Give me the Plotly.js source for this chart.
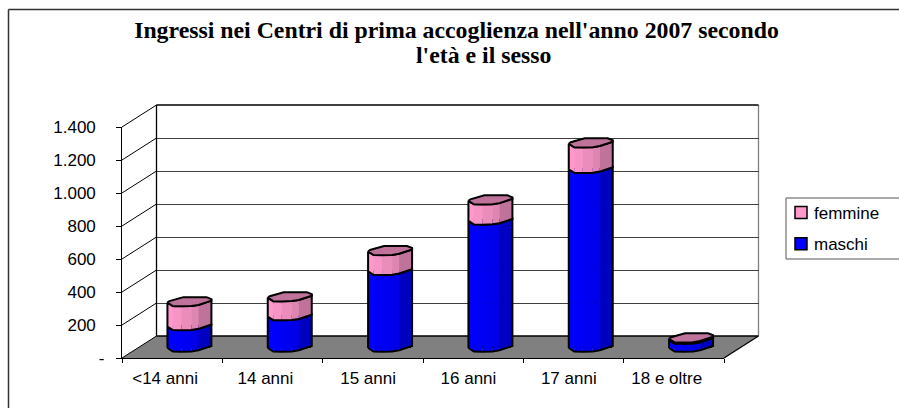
<!DOCTYPE html>
<html><head><meta charset="utf-8">
<script src="https://cdn.plot.ly/plotly-3.0.1.min.js"></script>
<style>html,body{margin:0;padding:0;background:#fff}#c{width:899px;height:408px}</style>
</head><body><div id="c"></div>
<script>
const categories = ['<14 anni','14 anni','15 anni','16 anni','17 anni','18 e oltre'];
const maschi  = [130,190,465,770,1083,48];
const femmine = [145,115,120,122,155,8];
const yTickVals = [0,200,400,600,800,1000,1200,1400];
const yTickText = ['-','200\u2002','400\u2002','600\u2002','800\u2002','1.000\u2002','1.200\u2002','1.400\u2002'];
const xTickText = ['<14 anni\u00a0\u00a0\u00a0','14 anni\u00a0\u00a0\u00a0','15 anni\u00a0\u00a0','16 anni\u00a0\u00a0','17 anni\u00a0\u00a0','18 e oltre\u00a0\u00a0\u00a0'];
const titleLine1 = "Ingressi nei Centri di prima accoglienza nell'anno 2007 secondo";
const titleLine2 = "l'età e il sesso";

const W=899,H=408;
const X=p=>p/W, Y=p=>1-p/H;
// pseudo-3D frame (pixels)
const F={x0:122,x1:724,y0:358,y1:127};           // front plane
const dx=34.5, dy=22;                            // depth of the box
const pxPerVal=(F.y0-F.y1)/1400, pxPerCat=(F.x1-F.x0)/6;
const BELOW=100;                                 // axis room under the base for the rounded bottoms
const M={x0:F.x0+dx/2,x1:F.x1+dx/2,y0:F.y0-dy/2}; // mid plane, bars stand here
const midDomainY=[Y(M.y0+BELOW*pxPerVal),Y(M.y0-1400*pxPerVal)];
const midDomainX=[X(M.x0),X(M.x1)];

// facetted cylinder profile, pixel offsets from bar centre
const frontEdge=[[-22,1],[-16.5,4.5],[-8,4.7],[2,4.4],[9,3.3],[22,-1]];
const backEdge=[[22,-2.5],[17,-4.5],[-6,-4.5],[-20,-0.5]];
const pinkBands=['#ff99cc','#f795c6','#ea8dbb','#de86b2','#c0739a'];
const blueBands=['#0000ff','#0000f8','#0000f0','#0000e8','#0000c0'];
const px=(i,o)=>i+o/pxPerCat, py=(v,o)=>v-o/pxPerVal;

function polyTrace(xs,ys,fill,lineW){
  return {type:'scatter',xaxis:'x4',yaxis:'y4',x:xs,y:ys,
    mode:lineW?'lines':'none',fill:'toself',fillcolor:fill,
    line:{color:'#000',width:lineW||0},showlegend:false,hoverinfo:'skip'};
}
function segmentTraces(lo,hi,bands){
  const out=[];
  bands.forEach((c,b)=>{
    const xs=[],ys=[];
    categories.forEach((_,i)=>{
      const a=frontEdge[b],e=frontEdge[b+1];
      xs.push(px(i,a[0]),px(i,e[0]),px(i,e[0]),px(i,a[0]),px(i,a[0]),null);
      ys.push(py(lo[i],a[1]),py(lo[i],e[1]),py(hi[i],e[1]),py(hi[i],a[1]),py(lo[i],a[1]),null);
    });
    out.push(polyTrace(xs,ys,c,0));
  });
  const xs=[],ys=[];
  categories.forEach((_,i)=>{
    frontEdge.forEach(p=>{xs.push(px(i,p[0]));ys.push(py(lo[i],p[1]));});
    frontEdge.slice().reverse().forEach(p=>{xs.push(px(i,p[0]));ys.push(py(hi[i],p[1]));});
    xs.push(px(i,frontEdge[0][0]),null);ys.push(py(lo[i],frontEdge[0][1]),null);
  });
  const o=polyTrace(xs,ys,'rgba(0,0,0,0)',2);o.fill='none';out.push(o);
  return out;
}
function capTrace(level){
  const xs=[],ys=[];
  categories.forEach((_,i)=>{
    frontEdge.concat(backEdge,[frontEdge[0]]).forEach(p=>{xs.push(px(i,p[0]));ys.push(py(level[i],p[1]));});
    xs.push(null);ys.push(null);
  });
  return polyTrace(xs,ys,'#c0739a',2);
}
const zeros=categories.map(()=>0);
const totals=maschi.map((m,i)=>m+femmine[i]);

const traces=[
  {type:'scatter',mode:'none',x:categories,y:totals,xaxis:'x',yaxis:'y',showlegend:false,hoverinfo:'skip'},
  {type:'scatter',mode:'none',x:[0,1],y:[0,1400],xaxis:'x3',yaxis:'y3',showlegend:false,hoverinfo:'skip'},
  {type:'bar',name:'maschi',legendgroup:'m',legendrank:2,x:categories,y:maschi,xaxis:'x2',yaxis:'y2',width:0.4,
   marker:{color:'#0000ff',line:{color:'#000',width:1.5}}},
  {type:'bar',name:'femmine',legendgroup:'f',legendrank:1,x:categories,y:femmine,xaxis:'x2',yaxis:'y2',width:0.4,
   marker:{color:'#ff99cc',line:{color:'#000',width:1.5}}},
  ...segmentTraces(zeros,maschi,blueBands),
  ...segmentTraces(maschi,totals,pinkBands),
  capTrace(totals)
];

const blk={color:'#000',width:1.3};
const line=(x0,y0,x1,y1,l)=>({type:'line',xref:'paper',yref:'paper',x0:X(x0),y0:Y(y0),x1:X(x1),y1:Y(y1),line:l||blk,layer:'below'});
const shapes=[
  line(8.5,9.5,W,9.5,{color:'#333',width:1.5}),
  line(8.5,9.5,8.5,H,{color:'#333',width:1.5}),
  {type:'path',xref:'paper',yref:'paper',layer:'below',fillcolor:'#808080',line:{width:0},
   path:`M${X(F.x0)},${Y(F.y0)}L${X(F.x0+dx)},${Y(F.y0-dy)}L${X(F.x1+dx)},${Y(F.y0-dy)}L${X(F.x1)},${Y(F.y0)}Z`},
  line(F.x1,F.y0,F.x1+dx,F.y0-dy),
  line(F.x0+dx,F.y0-dy,F.x0+dx,F.y1-dy),
  line(F.x1+dx,F.y0-dy,F.x1+dx,F.y1-dy,{color:'#808080',width:1.3}),
  line(F.x0+dx,F.y1-dy,F.x1+dx,F.y1-dy),
  line(F.x0+dx,F.y0-dy,F.x1+dx,F.y0-dy),
  ...yTickVals.map(v=>{const y=F.y0-v*pxPerVal;return line(F.x0,y,F.x0+dx,y-dy,{color:'#000',width:1});}),
  {type:'rect',xref:'paper',yref:'paper',layer:'below',x0:X(786),x1:X(905),y0:Y(198),y1:Y(259),fillcolor:'#fff',line:{color:'#555',width:1}}
];

const serif={family:'"Liberation Serif","Times New Roman",serif',size:23.8,color:'#000',weight:700};
const hidden={visible:false,fixedrange:true};
const layout={
  width:W,height:H,margin:{l:0,r:0,t:0,b:0},paper_bgcolor:'#fff',plot_bgcolor:'rgba(0,0,0,0)',
  font:{family:'"Liberation Sans",Arial,sans-serif',size:17,color:'#000'},
  title:{text:titleLine1,x:X(456.5),xanchor:'center',y:Y(21),yanchor:'top',xref:'paper',yref:'paper',font:serif},
  annotations:[{text:titleLine2,xref:'paper',yref:'paper',x:X(484),xanchor:'center',y:Y(69),yanchor:'bottom',showarrow:false,font:serif,borderpad:0}],
  barmode:'stack',bargap:0.6,
  showlegend:true,
  legend:{x:X(781),xanchor:'left',y:Y(195),yanchor:'top',traceorder:'grouped',tracegroupgap:6,
          bgcolor:'rgba(0,0,0,0)',borderwidth:0,font:{size:17}},
  xaxis:{type:'category',categoryorder:'array',categoryarray:categories,domain:[X(F.x0),X(F.x1)],anchor:'y',range:[-0.5,5.5],
         tickmode:'array',tickvals:categories,ticktext:xTickText,
         showline:true,linecolor:'#000',linewidth:1.3,ticks:'outside',ticklen:4,tickcolor:'#000',tickwidth:1,tickson:'boundaries',
         showgrid:false,zeroline:false,ticklabelstandoff:4,fixedrange:true},
  yaxis:{domain:[Y(F.y0),Y(F.y1)],anchor:'x',range:[0,1400],tickvals:yTickVals,ticktext:yTickText,
         showline:true,linecolor:'#000',linewidth:1.3,ticks:'outside',ticklen:5,tickcolor:'#000',tickwidth:1,
         showgrid:false,zeroline:false,ticklabelstandoff:8,fixedrange:true},
  xaxis2:{...hidden,type:'category',categoryorder:'array',categoryarray:categories,domain:midDomainX,anchor:'y2',range:[-0.5,5.5]},
  yaxis2:{...hidden,domain:midDomainY,anchor:'x2',range:[-BELOW,1400]},
  xaxis3:{...hidden,domain:[X(F.x0+dx),X(F.x1+dx)],anchor:'y3',range:[0,1]},
  yaxis3:{domain:[Y(F.y0-dy),Y(F.y1-dy)],anchor:'x3',range:[0,1400],tickvals:yTickVals,showticklabels:false,ticks:'',
          showline:false,showgrid:true,gridcolor:'#404040',gridwidth:1,zeroline:false,fixedrange:true},
  xaxis4:{...hidden,domain:midDomainX,anchor:'y4',range:[-0.5,5.5]},
  yaxis4:{...hidden,domain:midDomainY,anchor:'x4',range:[-BELOW,1400]},
  shapes:shapes
};
Plotly.newPlot('c',traces,layout,{displayModeBar:false,staticPlot:true}).then(()=>{
  // the legend label sits closer to its swatch in the original
  document.querySelectorAll('#c .legendtext').forEach(t=>t.setAttribute('x','33'));
});
</script></body></html>
